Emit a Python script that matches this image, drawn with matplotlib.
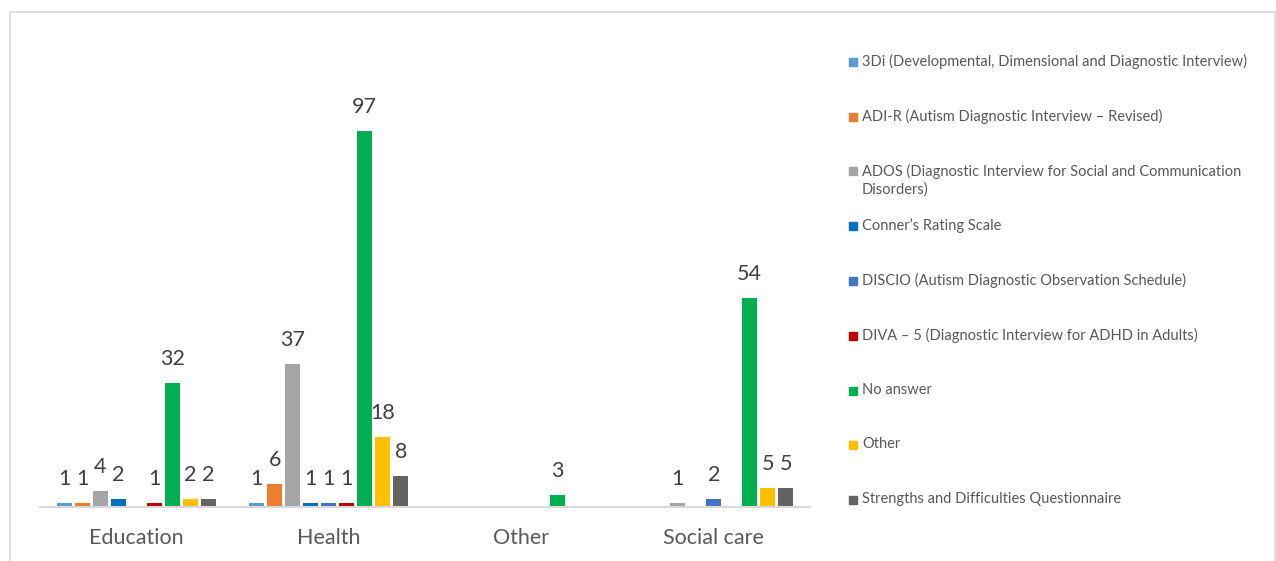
import numpy as np
import matplotlib.pyplot as plt
from matplotlib.patches import Rectangle

# categories and tools
sectors = ["Education", "Health", "Other", "Social care"]
tools = [
    "3Di (Developmental, Dimensional and Diagnostic Interview)",
    "ADI-R (Autism Diagnostic Interview \u2013 Revised)",
    "ADOS (Diagnostic Interview for Social and Communication\nDisorders)",
    "Conner\u2019s Rating Scale",
    "DISCIO (Autism Diagnostic Observation Schedule)",
    "DIVA \u2013 5 (Diagnostic Interview for ADHD in Adults)",
    "No answer",
    "Other",
    "Strengths and Difficulties Questionnaire",
]
colors = ["#5B9BD5", "#ED7D31", "#A5A5A5", "#0070C0", "#4472C4",
          "#C00000", "#00B050", "#FFC000", "#636363"]

# counts per tool, ordered as sectors (0 = no response)
threedi = [1, 1, 0, 0]
adir = [1, 6, 0, 0]
ados = [4, 37, 0, 1]
conners = [2, 1, 0, 0]
discio = [0, 1, 0, 2]
diva = [1, 1, 0, 0]
no_answer = [32, 97, 3, 54]
other = [2, 18, 0, 5]
sdq = [2, 8, 0, 5]
series = [threedi, adir, ados, conners, discio, diva, no_answer, other, sdq]

W, H = 1276, 561
fig = plt.figure(figsize=(W / 100, H / 100), dpi=100)
plt.rcParams['font.family'] = ['Lato', 'DejaVu Sans']

# outer chart border
fig.patches.append(Rectangle((10 / W, -0.1), (W - 11) / W, 1.1 - 12 / H,
                             transform=fig.transFigure, fill=False,
                             edgecolor="#D9D9D9", linewidth=1.2))

ax = fig.add_axes([40 / W, 54 / H, 770 / W, 477 / H])
x = np.arange(len(sectors))
pitch = 0.0935
width = 0.078
for i, (vals, col) in enumerate(zip(series, colors)):
    pos = x + (i - 4) * pitch
    bars = ax.bar(pos, vals, width=width, color=col, linewidth=0)
    for b, v in zip(bars, vals):
        if v:
            ax.annotate(str(v), (b.get_x() + b.get_width() / 2, v),
                        xytext=(0, 18), textcoords="offset pixels",
                        ha="center", va="baseline", fontsize=15.5,
                        color="#404040")

ax.set_xlim(-0.5, len(sectors) - 0.5)
ax.set_ylim(0, 123)
ax.set_yticks([])
ax.set_xticks(x)
ax.set_xticklabels(sectors, fontsize=15.5, color="#595959")
ax.tick_params(axis="x", length=0, pad=15)
for s in ["top", "left", "right"]:
    ax.spines[s].set_visible(False)
ax.spines["bottom"].set_color("#D9D9D9")
ax.spines["bottom"].set_linewidth(1.5)

# legend on the right
y0, step = 62, 54.75
for i, (name, col) in enumerate(zip(tools, colors)):
    yc = y0 + i * step
    fig.patches.append(Rectangle((849 / W, 1 - (yc + 4) / H), 8 / W, 8 / H,
                                 transform=fig.transFigure, color=col))
    fig.text(862 / W, 1 - (yc - 8) / H, name, fontsize=10.5, color="#595959",
             ha="left", va="top", linespacing=1.3)

fig.savefig("out.png", dpi=100)
